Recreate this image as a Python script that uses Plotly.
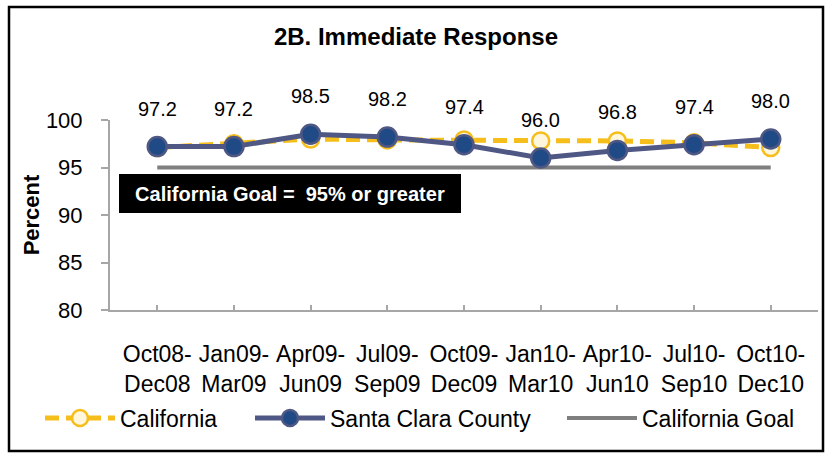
import plotly.graph_objects as go

categories = ["Oct08-<br>Dec08", "Jan09-<br>Mar09", "Apr09-<br>Jun09", "Jul09-<br>Sep09",
              "Oct09-<br>Dec09", "Jan10-<br>Mar10", "Apr10-<br>Jun10", "Jul10-<br>Sep10",
              "Oct10-<br>Dec10"]
california = [97.1, 97.5, 98.0, 97.9, 97.9, 97.8, 97.8, 97.6, 97.1]
santa_clara = [97.2, 97.2, 98.5, 98.2, 97.4, 96.0, 96.8, 97.4, 98.0]
goal = [95, 95, 95, 95, 95, 95, 95, 95, 95]

FONT = "Liberation Sans, Arial, sans-serif"
W, H = 828, 454
L, R, T, B = 110, 10, 120, 144

fig = go.Figure()
fig.add_trace(go.Scatter(
    x=categories, y=goal, name="California Goal", mode="lines", legend="legend3",
    line=dict(color="#7F7F7F", width=4)))
fig.add_trace(go.Scatter(
    x=categories, y=california, name="California", mode="lines+markers", legend="legend",
    line=dict(color="#F6BE1A", width=5, dash="14px,7px"),
    marker=dict(size=17, color="#FFF6DC", line=dict(color="#F6BE1A", width=2.5))))
fig.add_trace(go.Scatter(
    x=categories, y=santa_clara, name="Santa Clara County", mode="lines+markers", legend="legend2",
    line=dict(color="#4F5884", width=5),
    marker=dict(size=19, color="#1F4A85", line=dict(color="#4F5884", width=2.5))))

for c, v in zip(categories, santa_clara):
    fig.add_annotation(x=c, y=v, text=f"{v:.1f}", showarrow=False, yshift=38,
                       font=dict(size=20, color="black", family=FONT))

fig.add_annotation(xref="paper", yref="paper", x=(119 - L) / (W - L - R), y=(H - B - 174) / (H - T - B),
                   xanchor="left", yanchor="top",
                   text="<b>California Goal =&nbsp; 95% or greater</b>", showarrow=False,
                   bgcolor="black", font=dict(color="white", size=20, family=FONT),
                   borderpad=0, borderwidth=0, width=342, height=39, align="center", valign="middle")

pw, ph = W - L - R, H - T - B
fig.add_shape(type="rect", xref="paper", yref="paper",
              x0=(9 - L) / pw, x1=(823 - L) / pw,
              y0=(H - B - 451) / ph, y1=(H - B - 7) / ph,
              line=dict(color="black", width=2.5))

leg_common = dict(orientation="h", yref="container", xref="container", y=(H - 418) / H,
                  yanchor="middle", xanchor="left", font=dict(size=23, family=FONT, color="black"),
                  itemwidth=70, bgcolor="rgba(0,0,0,0)", borderwidth=0)

fig.update_layout(
    width=W, height=H,
    margin=dict(l=L, r=R, t=T, b=B),
    paper_bgcolor="white", plot_bgcolor="white",
    title=dict(text="<b>2B. Immediate Response</b>", x=416 / W, xanchor="center",
               y=1 - 37 / H, yanchor="middle", xref="container", yref="container",
               font=dict(size=24, color="black", family=FONT)),
    font=dict(family=FONT, color="black"),
    showlegend=True,
    legend=dict(**leg_common, x=(40) / W),
    legend2=dict(**leg_common, x=(250) / W),
    legend3=dict(**leg_common, x=(562) / W),
    xaxis=dict(showgrid=False, showline=True, linecolor="#A6A6A6", linewidth=2,
               ticks="inside", tickcolor="#A6A6A6", ticklen=5, tickwidth=1.5,
               ticklabelstandoff=22,
               tickfont=dict(size=23, family=FONT), automargin=False),
    yaxis=dict(range=[80, 100], dtick=5, showgrid=False, showline=True,
               linecolor="#A6A6A6", linewidth=2, ticks="outside", tickcolor="#A6A6A6",
               ticklen=7, tickwidth=1.5, ticklabelstandoff=14,
               tickfont=dict(size=22, family=FONT), automargin=False,
               title=dict(text="<b>Percent</b>", font=dict(size=22, family=FONT), standoff=0)),
)

fig.write_html("out.html", config={"displayModeBar": False},
               post_script="document.body.style.margin='0';document.body.style.overflow='hidden';")
